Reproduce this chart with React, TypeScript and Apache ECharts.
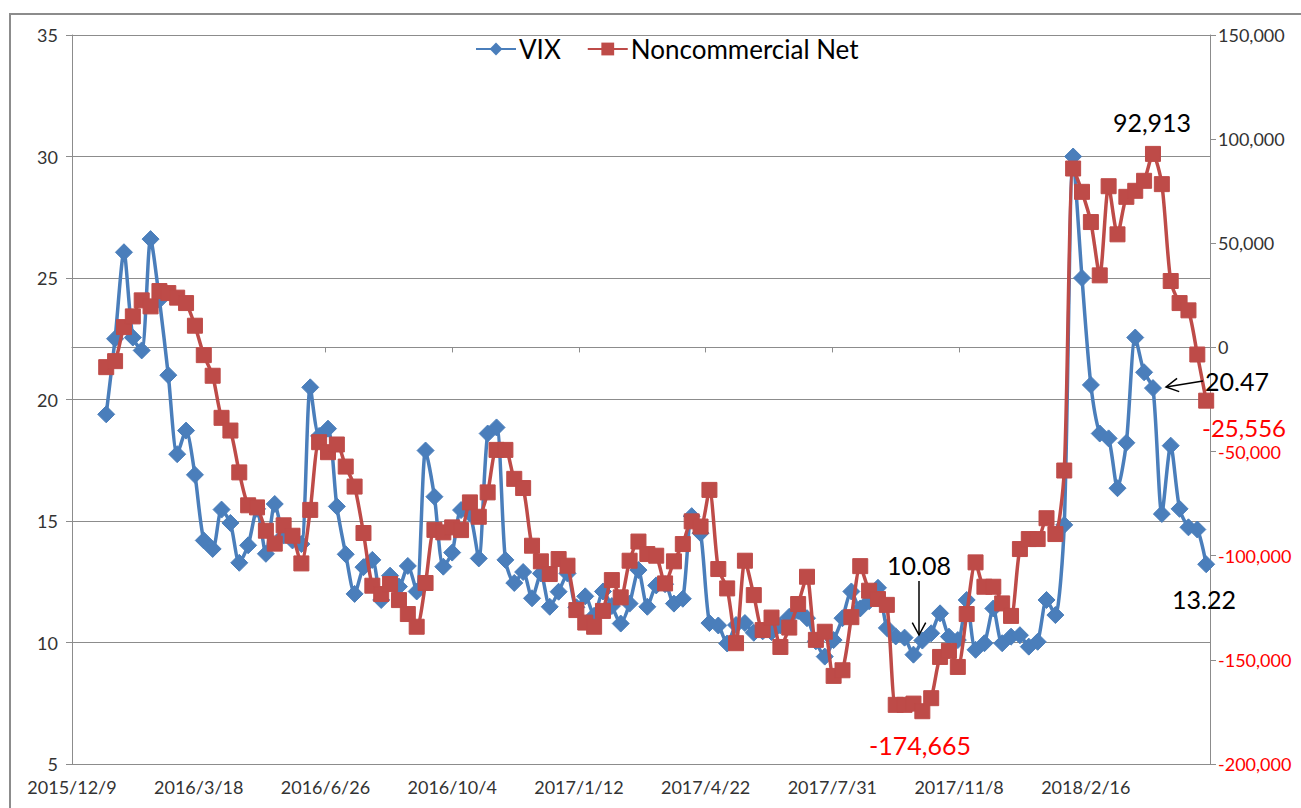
import React, { useEffect, useRef } from 'react';
import * as echarts from 'echarts';

// Axis origin date and first weekly observation (Tuesdays)
const AXIS_START = [2015, 12, 9];
const FIRST_OBS = [2016, 1, 5];
const AXIS_SPAN_DAYS = 898;
const X_INTERVAL_DAYS = 100;

const seriesNames = ['VIX', 'Noncommercial Net'];

const vix = [
  19.39, 22.5, 26.06, 22.55, 22.02, 26.6, 24.1, 21.0, 17.75, 18.72,
  16.9, 14.2, 13.85, 15.47, 14.92, 13.28, 14.0, 15.5, 13.65, 15.7,
  14.4, 14.2, 14.05, 20.5, 18.5, 18.8, 15.6, 13.63, 12.0, 13.1,
  13.4, 11.75, 12.75, 12.3, 13.15, 12.1, 17.9, 16.0, 13.12, 13.7,
  15.45, 15.3, 13.46, 18.6, 18.85, 13.4, 12.45, 12.9, 11.82, 12.84,
  11.47, 12.09, 12.84, 11.45, 11.9, 11.1, 12.1, 11.5, 10.78, 11.6,
  12.98, 11.47, 12.35, 12.4, 11.6, 11.8, 15.2, 14.5, 10.8, 10.7,
  9.96, 10.72, 10.8, 10.4, 10.46, 10.43, 10.7, 11.06, 11.3, 11.0,
  10.05, 9.42, 10.1, 11.0, 12.1, 11.4, 11.7, 12.25, 10.6, 10.25,
  10.2, 9.5, 10.08, 10.38, 11.2, 10.24, 10.1, 11.75, 9.7, 9.97,
  11.4, 9.97, 10.24, 10.3, 9.83, 10.03, 11.75, 11.13, 14.84, 30.0,
  25.0, 20.6, 18.6, 18.4, 16.35, 18.22, 22.55, 21.12, 20.47, 15.29,
  18.1, 15.5, 14.74, 14.65, 13.22,
];

const noncommercialNet = [
  -9470, -6590, 9760, 14900, 22600, 19700, 27070, 26100, 23900, 21300,
  10430, -3700, -13600, -33800, -39900, -60000, -75800, -76800, -88000, -94200,
  -85400, -90400, -103700, -78000, -45500, -50300, -46600, -57200, -66800, -89100,
  -114400, -118400, -113600, -121300, -128000, -134100, -113100, -87600, -88800, -86400,
  -87700, -74400, -81300, -69600, -49200, -49200, -63100, -67500, -95200, -102700,
  -108800, -101600, -104800, -126100, -132100, -134100, -126500, -111700, -120000, -102400,
  -93200, -99200, -100000, -113300, -102700, -94400, -83500, -86000, -68400, -106400,
  -115700, -142000, -102400, -118900, -135700, -129700, -143800, -134500, -123200, -110100,
  -140400, -136500, -157700, -155000, -129500, -105000, -116800, -120800, -123600, -171600,
  -171600, -171000, -174665, -168400, -148600, -145700, -153400, -128000, -103200, -114900,
  -114900, -122900, -128900, -96800, -92000, -92000, -82000, -89600, -59100, 85900,
  74700, 60200, 34600, 77400, 54300, 72300, 75200, 80000, 92913, 78400,
  31900, 21300, 17800, -3400, -25556,
];

const leftAxis = { min: 5, max: 35, interval: 5 };
const rightAxis = { min: -200000, max: 150000, interval: 50000 };

const DAY = 86400000;
const utc = (d: number[]) => Date.UTC(d[0], d[1] - 1, d[2]);
const firstOffset = Math.round((utc(FIRST_OBS) - utc(AXIS_START)) / DAY);
const dayOf = (i: number) => firstOffset + 7 * i;

const fmtDate = (days: number) => {
  const dt = new Date(utc(AXIS_START) + days * DAY);
  return `${dt.getUTCFullYear()}/${dt.getUTCMonth() + 1}/${dt.getUTCDate()}`;
};
const fmtThousands = (v: number) => {
  const s = Math.abs(Math.round(v)).toString().replace(/\B(?=(\d{3})+(?!\d))/g, ',');
  return (v < 0 ? '-' : '') + s;
};

const FONT = 'Lato, "Open Sans", "Liberation Sans", sans-serif';
const BLUE = '#4A7EBB';
const RED = '#BE4B48';
const GRID = '#8C8C8C';

function arrow(x1: number, y1: number, x2: number, y2: number) {
  const a = Math.atan2(y2 - y1, x2 - x1);
  const L = 14;
  const s = 0.5;
  const p1 = [x2 - L * Math.cos(a - s), y2 - L * Math.sin(a - s)];
  const p2 = [x2 - L * Math.cos(a + s), y2 - L * Math.sin(a + s)];
  return [
    { type: 'line', shape: { x1, y1, x2, y2 }, style: { stroke: '#000', lineWidth: 1.5 }, z: 10 },
    { type: 'polyline', shape: { points: [p1, [x2, y2], p2] }, style: { stroke: '#000', lineWidth: 1.5, fill: null }, z: 10 },
  ];
}

function label(text: string, x: number, y: number, color: string, align = 'center', size = 25) {
  return {
    type: 'text',
    x,
    y,
    z: 10,
    style: { text, fill: color, fontSize: size, fontFamily: FONT, align, verticalAlign: 'middle' },
  };
}

export default function App() {
  const ref = useRef<HTMLDivElement>(null);
  useEffect(() => {
    document.body.style.margin = '0';
    if (!ref.current) return;
    const chart = echarts.init(ref.current, null, { renderer: 'svg' });
    chart.setOption({
      animation: false,
      backgroundColor: '#fff',
      grid: { left: 72, right: 91, top: 35, bottom: 44, containLabel: false },
      legend: {
        top: 31,
        left: 470,
        itemWidth: 40,
        itemHeight: 16,
        itemGap: 26,
        textStyle: { fontSize: 26, color: '#000', fontFamily: FONT, padding: [0, 0, 0, -2] },
        data: seriesNames,
      },
      xAxis: {
        type: 'value',
        min: 0,
        max: AXIS_SPAN_DAYS,
        interval: X_INTERVAL_DAYS,
        axisLine: { show: true, lineStyle: { color: GRID, width: 1 } },
        axisTick: { show: true, length: 5, lineStyle: { color: GRID } },
        splitLine: { show: false },
        axisLabel: {
          formatter: (v: number) => fmtDate(v),
          showMaxLabel: false,
          fontSize: 18,
          color: '#333',
          fontFamily: FONT,
          margin: 14,
        },
      },
      yAxis: [
        {
          type: 'value',
          position: 'left',
          ...leftAxis,
          axisLine: { show: true, lineStyle: { color: GRID } },
          axisTick: { show: true, length: 6, lineStyle: { color: GRID } },
          splitLine: { show: true, lineStyle: { color: GRID, width: 1 } },
          axisLabel: { fontSize: 18, color: '#333', fontFamily: FONT, margin: 14 },
        },
        {
          type: 'value',
          position: 'right',
          ...rightAxis,
          axisLine: { show: true, lineStyle: { color: GRID } },
          axisTick: { show: true, length: 6, lineStyle: { color: GRID } },
          splitLine: { show: false },
          axisLabel: {
            fontSize: 18,
            color: '#333',
            fontFamily: FONT,
            margin: 8,
            formatter: (v: number) => (v < 0 ? `{neg|${fmtThousands(v)}}` : fmtThousands(v)),
            rich: { neg: { color: '#FF0000', fontSize: 18, fontFamily: FONT } },
          },
        },
      ],
      series: [
        {
          name: seriesNames[0],
          type: 'line',
          yAxisIndex: 0,
          data: vix.map((v, i) => [dayOf(i), v]),
          smooth: 0.25,
          symbol: 'diamond',
          symbolSize: 17,
          lineStyle: { color: BLUE, width: 3.5 },
          itemStyle: { color: BLUE, borderColor: BLUE },
          z: 2,
        },
        {
          name: seriesNames[1],
          type: 'line',
          yAxisIndex: 1,
          data: noncommercialNet.map((v, i) => [dayOf(i), v]),
          smooth: 0.25,
          symbol: 'rect',
          symbolSize: 15,
          lineStyle: { color: RED, width: 3.5 },
          itemStyle: { color: RED, borderColor: RED },
          z: 3,
        },
      ],
      graphic: [
        { type: 'rect', shape: { x: 10, y: 14, width: 1300, height: 800 }, style: { fill: null, stroke: '#8C8C8C', lineWidth: 2 }, silent: true },
        label('92,913', 1152, 122, '#000'),
        label('20.47', 1205, 381, '#000', 'left'),
        ...arrow(1203, 381, 1166, 387),
        label('-25,556', 1244, 427, '#FF0000', 'center', 24),
        label('13.22', 1204, 599, '#000'),
        label('10.08', 919, 565, '#000'),
        ...arrow(919, 581, 919, 635),
        label('-174,665', 920, 745, '#FF0000'),
      ],
    });
    return () => chart.dispose();
  }, []);
  return <div ref={ref} style={{ width: 1301, height: 808 }} />;
}
